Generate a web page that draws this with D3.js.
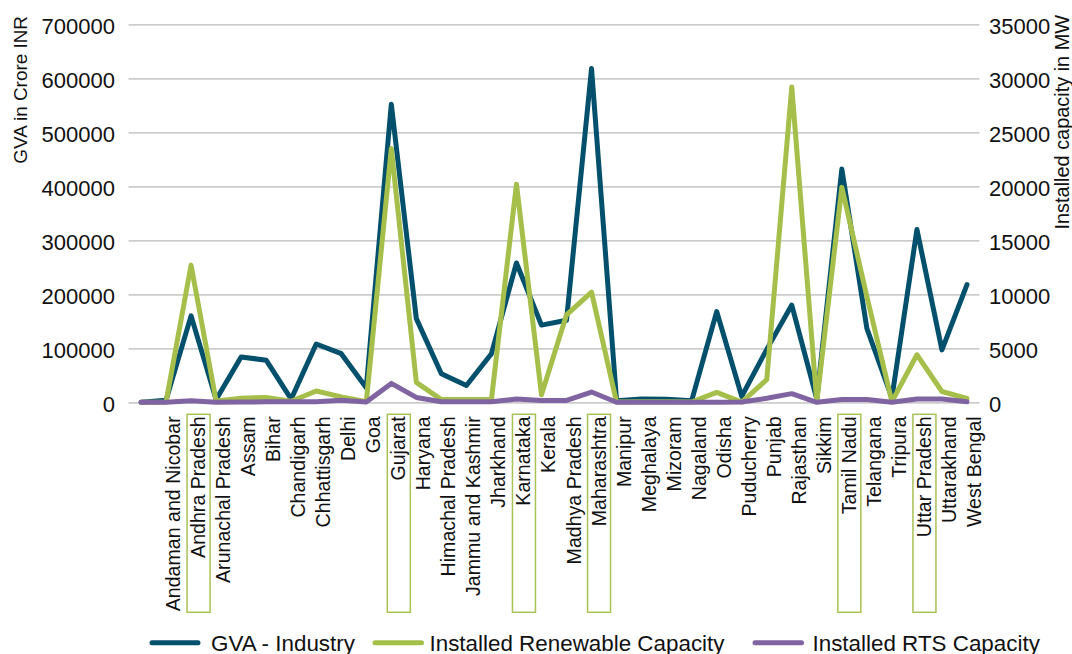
<!DOCTYPE html>
<html>
<head>
<meta charset="utf-8">
<script src="https://cdn.jsdelivr.net/npm/d3@7"></script>
<style>
  html, body { margin: 0; padding: 0; background: #ffffff; }
  svg { display: block; font-family: "Liberation Sans", Arial, Helvetica, sans-serif; }
</style>
</head>
<body>
<svg id="chart" width="1072" height="654"></svg>
<script>
// States / UTs along the category axis (first slot is an unlabelled lead-in point)
const categories = [
  "", "Andaman and Nicobar", "Andhra Pradesh", "Arunachal Pradesh", "Assam", "Bihar",
  "Chandigarh", "Chhattisgarh", "Delhi", "Goa", "Gujarat", "Haryana",
  "Himachal Pradesh", "Jammu and Kashmir", "Jharkhand", "Karnataka", "Kerala",
  "Madhya Pradesh", "Maharashtra", "Manipur", "Meghalaya", "Mizoram", "Nagaland",
  "Odisha", "Puducherry", "Punjab", "Rajasthan", "Sikkim", "Tamil Nadu",
  "Telangana", "Tripura", "Uttar Pradesh", "Uttarakhand", "West Bengal"
];

// GVA - Industry, crore INR (left axis)
const gvaIndustry = [
  0, 4000, 160000, 5000, 84000, 78000,
  6000, 108000, 90000, 27000, 552000, 155000,
  53000, 31000, 90000, 258000, 143000,
  152000, 618000, 3000, 6000, 5500, 3000,
  168000, 11000, 98000, 180000, 6000, 432000,
  137000, 8000, 320000, 97000, 218000
];

// Installed renewable capacity, MW (right axis)
const renewableCapacity = [
  0, 30, 12700, 130, 380, 450,
  100, 1050, 500, 50, 23500, 1850,
  250, 250, 250, 20200, 700,
  8100, 10200, 20, 50, 40, 30,
  920, 20, 2100, 29200, 60, 19900,
  9800, 60, 4400, 1000, 350
];

// Installed rooftop solar (RTS) capacity, MW (right axis)
const rtsCapacity = [
  0, 10, 150, 10, 30, 40,
  40, 50, 180, 20, 1750, 450,
  50, 40, 50, 300, 160,
  170, 950, 5, 5, 5, 2,
  15, 20, 370, 800, 2, 250,
  260, 5, 300, 300, 60
];

const leftTicks = [0, 100000, 200000, 300000, 400000, 500000, 600000, 700000];
const rightTicks = [0, 5000, 10000, 15000, 20000, 25000, 30000, 35000];

// States outlined on the category axis
const highlighted = ["Andhra Pradesh", "Gujarat", "Karnataka", "Maharashtra", "Tamil Nadu", "Uttar Pradesh"];

const colors = { gva: "#03506d", renewable: "#a6bf4b", rts: "#8064a2" };

const svg = d3.select("#chart");
const plot = { left: 128.5, right: 979.5, top: 24.3, bottom: 402.3 };

const x = d3.scaleBand().domain(categories).range([plot.left, plot.right]).padding(0);
const cx = c => x(c) + x.bandwidth() / 2;
const yLeft = d3.scaleLinear().domain([0, 700000]).range([plot.bottom, plot.top]);
const yRight = d3.scaleLinear().domain([0, 35000]).range([plot.bottom, plot.top]);

// Horizontal gridlines
const grid = svg.append("g")
  .attr("transform", `translate(${plot.left},0)`)
  .call(d3.axisLeft(yLeft).tickValues(leftTicks).tickSize(-(plot.right - plot.left)).tickFormat(""));
grid.select(".domain").remove();
grid.selectAll("line").attr("stroke", "#cdcdcd").attr("stroke-width", 1.8);

// Left value axis
const leftAxis = svg.append("g")
  .attr("transform", "translate(115,0)")
  .call(d3.axisLeft(yLeft).tickValues(leftTicks).tickSize(0).tickPadding(0).tickFormat(d3.format("d")));
leftAxis.select(".domain").remove();
leftAxis.selectAll("text")
  .attr("dy", "0.4em").attr("fill", "#111").style("font-size", "22px")
  .style("font-family", "'Liberation Sans', Arial, sans-serif");

// Right value axis
const rightAxis = svg.append("g")
  .attr("transform", "translate(989,0)")
  .call(d3.axisRight(yRight).tickValues(rightTicks).tickSize(0).tickPadding(0).tickFormat(d3.format("d")));
rightAxis.select(".domain").remove();
rightAxis.selectAll("text")
  .attr("dy", "0.4em").attr("fill", "#111").style("font-size", "22px")
  .style("font-family", "'Liberation Sans', Arial, sans-serif");

// Category axis with rotated labels
const xAxis = svg.append("g")
  .attr("transform", `translate(0,${plot.bottom})`)
  .call(d3.axisBottom(x).tickSize(0));
xAxis.select(".domain").remove();
xAxis.selectAll("text")
  .attr("transform", "rotate(-90)")
  .attr("x", -14).attr("y", 14).attr("dy", 0)
  .style("text-anchor", "end").attr("fill", "#111")
  .style("font-size", "19.6px")
  .style("font-family", "'Liberation Sans', Arial, sans-serif");

// Outline boxes around the highlighted state labels
svg.append("g").selectAll("rect")
  .data(highlighted)
  .join("rect")
  .attr("x", d => cx(d) - 4)
  .attr("y", 414.3)
  .attr("width", 23)
  .attr("height", 198)
  .attr("fill", "none")
  .attr("stroke", "#a9c254")
  .attr("stroke-width", 1.5);

// Series lines
const series = [
  { key: "gva", values: gvaIndustry, scale: yLeft },
  { key: "renewable", values: renewableCapacity, scale: yRight },
  { key: "rts", values: rtsCapacity, scale: yRight }
];
series.forEach(s => {
  const line = d3.line()
    .x((d, i) => cx(categories[i]))
    .y(d => s.scale(d));
  svg.append("path")
    .datum(s.values)
    .attr("d", line)
    .attr("fill", "none")
    .attr("stroke", colors[s.key])
    .attr("stroke-width", 5)
    .attr("stroke-linejoin", "round")
    .attr("stroke-linecap", "round");
});

// Axis titles
svg.append("text")
  .attr("transform", "translate(26.5,16) rotate(-90)")
  .style("text-anchor", "end")
  .style("font-size", "18.9px")
  .attr("fill", "#111")
  .text("GVA in Crore INR");

svg.append("text")
  .attr("transform", "translate(1068.5,15) rotate(-90)")
  .style("text-anchor", "end")
  .style("font-size", "19.9px")
  .attr("fill", "#111")
  .text("Installed capacity in MW");

// Legend
const legendItems = [
  { label: "GVA - Industry", color: colors.gva, x0: 152, x1: 198, tx: 211 },
  { label: "Installed Renewable Capacity", color: colors.renewable, x0: 375, x1: 421.5, tx: 429.5 },
  { label: "Installed RTS Capacity", color: colors.rts, x0: 755, x1: 801.5, tx: 812.5 }
];
const legend = svg.append("g");
legendItems.forEach(it => {
  legend.append("line")
    .attr("x1", it.x0).attr("x2", it.x1)
    .attr("y1", 642.7).attr("y2", 642.7)
    .attr("stroke", it.color).attr("stroke-width", 5)
    .attr("stroke-linecap", "round");
  legend.append("text")
    .attr("x", it.tx).attr("y", 650.5)
    .style("font-size", "22.4px")
    .attr("fill", "#111")
    .text(it.label);
});
</script>
</body>
</html>
